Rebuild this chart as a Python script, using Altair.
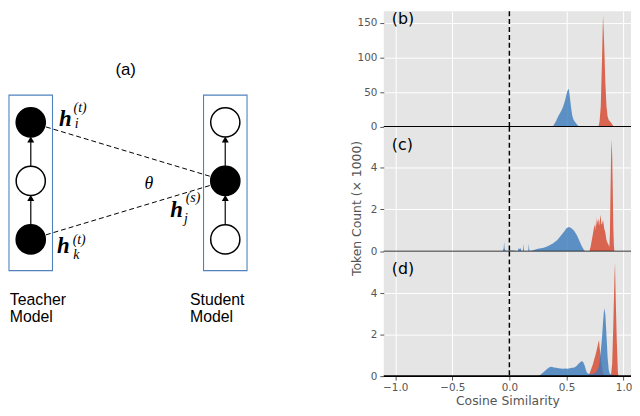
import altair as alt
import pandas as pd

# ---------------- histogram data ----------------
b_blue_x = [0.37, 0.38, 0.39, 0.40, 0.41, 0.42, 0.43, 0.44, 0.45, 0.46, 0.47, 0.48, 0.49,
            0.50, 0.51, 0.52, 0.53, 0.54, 0.55, 0.56, 0.57, 0.58, 0.59, 0.60, 0.61, 0.62]
b_blue_y = [0, 1, 3, 6, 9, 13, 16, 19, 22, 25, 29, 34, 40,
            47, 53, 55, 42, 28, 17, 11, 8, 6, 4, 2, 0.5, 0]
b_red_x = [0.78, 0.79, 0.80, 0.81, 0.82, 0.83, 0.84, 0.85, 0.86, 0.87, 0.88, 0.89, 0.90, 0.91, 0.92]
b_red_y = [0, 8, 30, 90, 162, 120, 65, 30, 15, 10, 8, 6, 4, 1, 0]

c_blue_x = [-0.06, -0.05, -0.046, -0.042, -0.035, -0.02, 0.0, 0.03, 0.06, 0.075, 0.08, 0.09, 0.10,
            0.105, 0.118, 0.123, 0.128, 0.165, 0.17, 0.175, 0.20, 0.25, 0.30, 0.335, 0.38, 0.42,
            0.45, 0.48, 0.50, 0.52, 0.54, 0.565, 0.59, 0.61, 0.63, 0.65, 0.665]
c_blue_y = [0, 0.15, 0.47, 0.15, 0.05, 0.03, 0.05, 0.05, 0.03, 0.02, 0.15, 0.12, 0.15,
            0.02, 0.02, 0.37, 0.02, 0.02, 0.37, 0.02, 0.05, 0.13, 0.18, 0.25, 0.38, 0.55,
            0.75, 0.95, 1.1, 1.17, 1.12, 1.0, 0.78, 0.55, 0.3, 0.1, 0]
c_red_x = [0.70, 0.71, 0.72, 0.73, 0.74, 0.75, 0.755, 0.76, 0.765, 0.77, 0.78, 0.785, 0.79, 0.80,
           0.805, 0.81, 0.82, 0.83, 0.84, 0.85, 0.86, 0.87, 0.875, 0.88, 0.885, 0.89, 0.895,
           0.90, 0.905, 0.91, 0.915, 0.92]
c_red_y = [0, 0.2, 0.5, 0.8, 1.1, 1.3, 1.0, 1.64, 1.2, 1.4, 1.55, 1.2, 1.4, 1.75,
           1.3, 1.3, 1.5, 1.1, 0.9, 0.55, 0.4, 0.3, 0.2, 0.8, 2.6, 4.4, 5.35,
           4.6, 3.0, 1.2, 0.3, 0]

d_blue_x = [0.25, 0.27, 0.29, 0.31, 0.33, 0.35, 0.37, 0.39, 0.41, 0.43, 0.45, 0.47, 0.49, 0.51,
            0.53, 0.55, 0.57, 0.59, 0.61, 0.63, 0.645, 0.66, 0.67, 0.68, 0.70, 0.72, 0.74, 0.76,
            0.78, 0.79, 0.80, 0.81, 0.82, 0.83, 0.84, 0.85, 0.86, 0.87, 0.88, 0.90, 0.92]
d_blue_y = [0, 0.05, 0.15, 0.25, 0.35, 0.43, 0.45, 0.42, 0.4, 0.38, 0.37, 0.36, 0.37, 0.36,
            0.38, 0.4, 0.42, 0.5, 0.62, 0.72, 0.7, 0.5, 0.3, 0.15, 0.1, 0.1, 0.12, 0.2,
            0.4, 0.7, 1.2, 1.8, 2.6, 3.3, 3.0, 2.0, 0.9, 0.3, 0.1, 0.05, 0]
d_red_x = [0.69, 0.70, 0.71, 0.72, 0.73, 0.74, 0.75, 0.76, 0.77, 0.78, 0.785, 0.79, 0.80, 0.81,
           0.82, 0.83, 0.86, 0.89, 0.90, 0.91, 0.92, 0.925, 0.93, 0.94, 0.95, 0.955]
d_red_y = [0, 0.1, 0.25, 0.4, 0.55, 0.75, 0.95, 1.15, 1.4, 1.65, 1.74, 1.4, 0.9, 0.45,
           0.15, 0.05, 0.03, 0.05, 0.6, 2.5, 4.8, 5.5, 4.0, 1.8, 0.2, 0]

panel_labels = ["(b)", "(c)", "(d)"]
panel_label_x = [-1.03, -1.03, -1.03]
panel_label_y = [155, 5.05, 5.2]
x_ticks = [-1.0, -0.5, 0.0, 0.5, 1.0]
b_ticks = [0, 50, 100, 150]
cd_ticks = [0, 2, 4]
zero_line = [0.0]

# ---------------- diagram data ----------------
node_col = [0, 0, 0, 1, 1, 1]
node_layer = [0, 1, 2, 0, 1, 2]
node_fill = ["black", "white", "black", "white", "black", "white"]
box_col = [0, 1]
arrow_col = [0, 0, 1, 1]
arrow_layer = [0, 1, 0, 1]
link_from_col = [0, 0]
link_from_layer = [2, 0]
link_to_col = [1, 1]
link_to_layer = [1, 1]
word_text = ["(a)", "Teacher\nModel", "Student\nModel"]
word_x = [0.488, -0.108, 0.8185]
word_y = [2.896, -1.034, -1.034]
word_align = ["center", "left", "left"]
h_x = [0.178, 0.168, 0.75]
h_y = [2.059, -0.118, 0.504]
sup_text = ["(t)", "(t)", "(s)"]
sup_x = [0.254, 0.249, 0.834]
sup_y = [2.252, -0.017, 0.706]
sub_text = ["i", "k", "j"]
sub_x = [0.236, 0.234, 0.798]
sub_y = [1.966, -0.269, 0.353]
theta_x = [0.6075]
theta_y = [0.949]

BLUE = "#3A7ABB"
RED = "#D9644F"
GRAY = "#555555"
FONT = "DejaVu Sans"

zero_df = pd.DataFrame({"zero": zero_line})


def panel(bx, by, rx, ry, ydom, yticks, idx, height, last, ytitle):
    xscale = alt.Scale(domain=[-1.1, 1.065], nice=False, zero=False)
    yscale = alt.Scale(domain=ydom, nice=False, zero=False)
    if last:
        xaxis = alt.Axis(values=x_ticks, format=".1f", title="Cosine Similarity",
                         grid=True, gridColor="white", gridWidth=1, domain=False,
                         tickColor=GRAY, tickSize=4, labelColor=GRAY, labelFont=FONT,
                         labelFontSize=10.5, labelPadding=3, titleFont=FONT,
                         titleFontSize=12.5, titleColor=GRAY, titleFontWeight="normal",
                         titlePadding=1, labelOverlap=False)
    else:
        xaxis = alt.Axis(values=x_ticks, labels=False, ticks=False, domain=False,
                         title=None, grid=True, gridColor="white", gridWidth=1)
    yaxis_kw = dict(values=yticks, grid=True, gridColor="white", gridWidth=1, domain=False,
                    tickColor=GRAY, tickSize=4, labelColor=GRAY, labelFont=FONT,
                    labelFontSize=10.5, labelPadding=3, labelOverlap=False)
    if ytitle:
        yaxis = alt.Axis(title=ytitle, titleX=-21, titleY=82, titleAngle=270,
                         titleBaseline="bottom", titleAlign="center", titleFont=FONT,
                         titleFontSize=12.5, titleColor=GRAY, titleFontWeight="normal",
                         **yaxis_kw)
    else:
        yaxis = alt.Axis(title=None, **yaxis_kw)

    def X(f):
        return alt.X(f, scale=xscale, axis=xaxis)

    def Y(f):
        return alt.Y(f, scale=yscale, axis=yaxis)

    red = alt.Chart(pd.DataFrame({"x": rx, "y": ry})).mark_area(
        interpolate="linear", color=RED, opacity=1, clip=True
    ).encode(x=X("x:Q"), y=Y("y:Q"))
    blue = alt.Chart(pd.DataFrame({"x": bx, "y": by})).mark_area(
        interpolate="linear", color=BLUE, opacity=0.8, clip=True
    ).encode(x=X("x:Q"), y=Y("y:Q"))
    hline = alt.Chart(zero_df).mark_rule(color="black", strokeWidth=1.6).encode(y=Y("zero:Q"))
    vline = alt.Chart(zero_df).mark_rule(color="black", strokeWidth=1.5,
                                         strokeDash=[5, 3]).encode(x=X("zero:Q"))
    lab = alt.Chart(pd.DataFrame({"x": [panel_label_x[idx]], "y": [panel_label_y[idx]],
                                  "t": [panel_labels[idx]]})).mark_text(
        align="left", baseline="middle", fontSize=16, font=FONT, color="black"
    ).encode(x=X("x:Q"), y=Y("y:Q"), text="t:N")
    return alt.layer(red, blue, vline, hline, lab).properties(
        width=250, height=height,
        view=alt.ViewBackground(fill="#E5E5E5", strokeWidth=0))


pb = panel(b_blue_x, b_blue_y, b_red_x, b_red_y, [0, 167], b_ticks, 0, 117, False, None)
pc = panel(c_blue_x, c_blue_y, c_red_x, c_red_y, [0, 5.92], cd_ticks, 1, 126, False,
           "Token Count (× 1000)")
pd_ = panel(d_blue_x, d_blue_y, d_red_x, d_red_y, [0, 6.03], cd_ticks, 2, 126, True, None)
right = alt.vconcat(pb, pc, pd_, spacing=0, bounds="flush")

# ---------------- diagram ----------------
DX = alt.Scale(domain=[-0.1118, 1.159], nice=False, zero=False)
DY = alt.Scale(domain=[-2.336, 3.899], nice=False, zero=False)
R = 15 / 59.5  # node radius in layer units
HW = 0.1118    # half box width in column units

nodes = pd.DataFrame({"c": node_col, "l": node_layer, "f": node_fill})
boxes = pd.DataFrame({"c0": [c - HW for c in box_col], "c1": [c + HW for c in box_col],
                      "l0": [-0.533] * 2, "l1": [2.465] * 2})
arrows = pd.DataFrame({"c": arrow_col, "l0": [l + R for l in arrow_layer],
                       "l1": [l + 1 - R - 0.04 for l in arrow_layer],
                       "lh": [l + 1 - R - 0.04 for l in arrow_layer]})
links = pd.DataFrame({"c0": link_from_col, "l0": link_from_layer,
                      "c1": link_to_col, "l1": link_to_layer})
words = pd.DataFrame({"t": word_text, "x": word_x, "y": word_y, "a": word_align})

box_l = alt.Chart(boxes).mark_rect(fillOpacity=0, stroke="#4F81BD", strokeWidth=1.1).encode(
    x=alt.X("c0:Q", scale=DX, axis=None), x2="c1:Q",
    y=alt.Y("l0:Q", scale=DY, axis=None), y2="l1:Q")
link_l = alt.Chart(links).mark_rule(color="black", strokeWidth=1, strokeDash=[5, 3]).encode(
    x="c0:Q", y="l0:Q", x2="c1:Q", y2="l1:Q")
arrow_l = alt.Chart(arrows).mark_rule(color="#333333", strokeWidth=1.5).encode(
    x="c:Q", y="l0:Q", y2="l1:Q")
head_l = alt.Chart(arrows).mark_point(shape="triangle-up", filled=True, size=50,
                                      color="black", opacity=1).encode(x="c:Q", y="lh:Q")
node_l = alt.Chart(nodes).mark_point(shape="circle", filled=True, size=870, opacity=1,
                                     strokeWidth=1.5).encode(
    x="c:Q", y="l:Q", fill=alt.Fill("f:N", scale=None), stroke=alt.value("black"))
word_center = alt.Chart(words[words["a"] == "center"]).mark_text(
    align="center", baseline="middle", fontSize=17, font="Liberation Sans", color="black"
).encode(x="x:Q", y="y:Q", text="t:N")
word_left = alt.Chart(words[words["a"] == "left"]).mark_text(
    align="left", baseline="middle", fontSize=16, font="Liberation Sans", color="black",
    lineBreak="\n", lineHeight=17
).encode(x="x:Q", y="y:Q", text="t:N")
h_l = alt.Chart(pd.DataFrame({"x": h_x, "y": h_y, "t": ["h"] * 3})).mark_text(
    align="center", baseline="middle", fontSize=23, font="Liberation Serif",
    fontStyle="italic", fontWeight="bold", color="black"
).encode(x="x:Q", y="y:Q", text="t:N")
sup_l = alt.Chart(pd.DataFrame({"x": sup_x, "y": sup_y, "t": sup_text})).mark_text(
    align="center", baseline="middle", fontSize=14, font="Liberation Serif",
    fontStyle="italic", color="black"
).encode(x="x:Q", y="y:Q", text="t:N")
sub_l = alt.Chart(pd.DataFrame({"x": sub_x, "y": sub_y, "t": sub_text})).mark_text(
    align="center", baseline="middle", fontSize=14, font="Liberation Serif",
    fontStyle="italic", color="black"
).encode(x="x:Q", y="y:Q", text="t:N")
theta_l = alt.Chart(pd.DataFrame({"x": theta_x, "y": theta_y, "t": ["θ"]})).mark_text(
    align="center", baseline="middle", fontSize=18, font="Liberation Serif",
    fontStyle="italic", color="black"
).encode(x="x:Q", y="y:Q", text="t:N")

diagram = alt.layer(box_l, link_l, arrow_l, node_l, head_l, word_center, word_left,
                    h_l, sup_l, sub_l, theta_l).properties(width=250, height=369)

chart = alt.hconcat(diagram, right, spacing=94).properties(padding=0).configure_view(
    strokeWidth=0)

chart.save("out.html", embed_options={"renderer": "svg", "actions": False})
